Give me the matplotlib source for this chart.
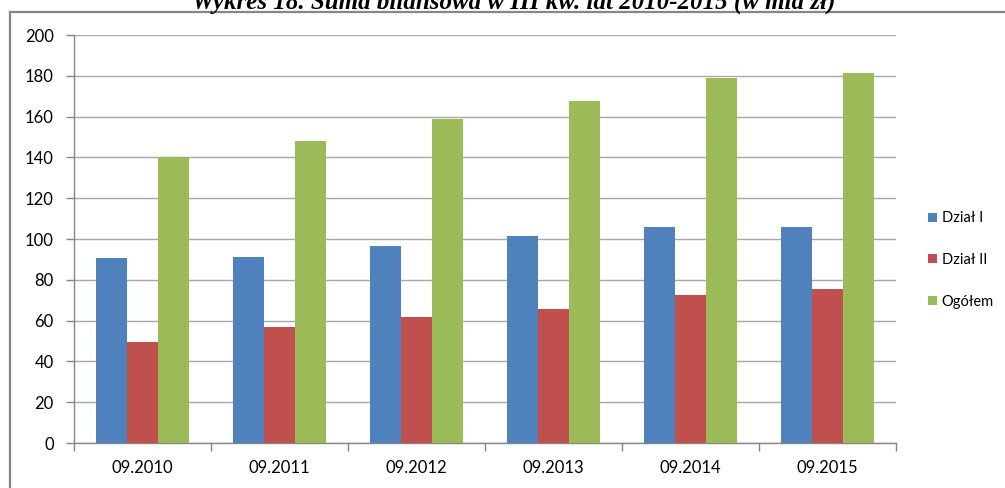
import matplotlib
matplotlib.use('Agg')
import matplotlib.pyplot as plt
from matplotlib.lines import Line2D
import numpy as np

# data (mld zł)
okresy = ['09.2010', '09.2011', '09.2012', '09.2013', '09.2014', '09.2015']
dzial_1 = [90.5, 91.0, 96.4, 101.3, 105.7, 105.7]
dzial_2 = [49.4, 56.7, 61.6, 65.5, 72.4, 75.3]
ogolem = [140.3, 148.2, 158.7, 167.5, 179.1, 181.2]
serie = ['Dział I', 'Dział II', 'Ogółem']

colors = ['#4f81bd', '#c0504d', '#9bbb59']
axis_gray = '#868686'
grid_gray = '#a8a8a8'

plt.rcParams['font.family'] = ['Lato', 'DejaVu Sans']

fig = plt.figure(figsize=(10.05, 4.88), dpi=100)
W, H = 1005, 488
ax = fig.add_axes((74 / W, 1 - 443 / H, (896 - 74) / W, (443 - 35) / H))

x = np.arange(len(okresy))
width = 0.224
for j, (vals, name) in enumerate(zip([dzial_1, dzial_2, ogolem], serie)):
    ax.bar(x + (j - 1) * width, vals, width, color=colors[j], label=name, zorder=3)

ax.set_xlim(-0.5, len(okresy) - 0.5)
ax.set_ylim(0, 200)
ax.set_yticks(range(0, 201, 20))
ax.yaxis.grid(True, color=grid_gray, linewidth=1.0, zorder=0)

ax.set_xticks(x)
ax.set_xticklabels(okresy, fontsize=12)
ax.set_xticks(np.arange(-0.5, len(okresy)), minor=True)
ax.tick_params(axis='x', which='major', length=0, pad=12)
ax.tick_params(axis='x', which='minor', length=5.5, color=axis_gray, width=1.0)
ax.tick_params(axis='y', length=5.5, color=axis_gray, width=1.0, pad=9, labelsize=12)

for s in ['top', 'right']:
    ax.spines[s].set_visible(False)
for s in ['left', 'bottom']:
    ax.spines[s].set_color(axis_gray)
    ax.spines[s].set_linewidth(1.0)

ax.legend(loc='center left', bbox_to_anchor=(928 / W, 1 - 260 / H),
          bbox_transform=fig.transFigure, frameon=False, fontsize=10.5,
          handlelength=0.6, handleheight=0.6, handletextpad=0.35,
          labelspacing=1.9, borderpad=0, borderaxespad=0)

# outer frame of the chart (top and left edges visible)
fig.add_artist(Line2D([10 / W, 1], [1 - 12 / H, 1 - 12 / H], transform=fig.transFigure,
                      color=axis_gray, linewidth=1.6))
fig.add_artist(Line2D([10 / W, 10 / W], [0, 1 - 12 / H], transform=fig.transFigure,
                      color=axis_gray, linewidth=1.6))

# title is partly cut by the top edge, as in the source
fig.text(514 / W, 1 - 9 / H, 'Wykres 18. Suma bilansowa w III kw. lat 2010-2015 (w mld zł)',
         ha='center', va='baseline', fontsize=18, fontweight='bold', fontstyle='italic',
         family=['Liberation Serif', 'DejaVu Serif'])

fig.savefig('out.png', dpi=100)
